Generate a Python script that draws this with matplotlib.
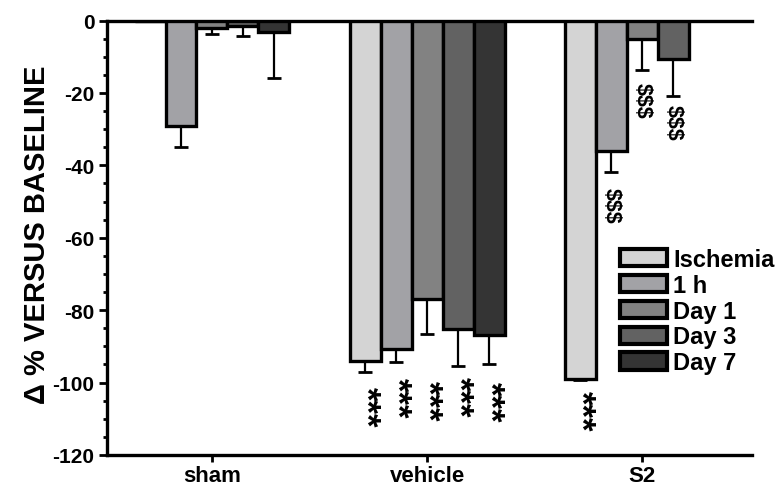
import numpy as np
import matplotlib
matplotlib.use("Agg")
import matplotlib.pyplot as plt
from matplotlib.ticker import MultipleLocator

plt.rcParams['font.family'] = ['Liberation Sans', 'DejaVu Sans']
plt.rcParams['font.weight'] = 'bold'
plt.rcParams['axes.unicode_minus'] = False

groups = ["sham", "vehicle", "S2"]
series = ["Ischemia", "1 h", "Day 1", "Day 3", "Day 7"]
colors = ["#d4d4d4", "#a2a2a6", "#828282", "#626262", "#343434"]

# mean values (% change versus baseline) per series, for sham / vehicle / S2
ischemia = [0.0, -94.1, -99.0]
h1 = [-29.1, -90.8, -36.0]
day1 = [-2.0, -76.9, -5.1]
day3 = [-1.4, -85.2, -10.6]
day7 = [-3.2, -86.9, np.nan]
values = [ischemia, h1, day1, day3, day7]

# lower error (SEM) per series
err_ischemia = [0.0, 3.0, 0.4]
err_h1 = [5.8, 3.5, 5.9]
err_day1 = [1.8, 9.7, 8.6]
err_day3 = [2.8, 10.2, 10.3]
err_day7 = [12.7, 8.0, np.nan]
errors = [err_ischemia, err_h1, err_day1, err_day3, err_day7]

# significance annotations: (group, series index, label, y position)
annotations = [
    (1, 0, "***", -106.5),
    (1, 1, "***", -104.0),
    (1, 2, "***", -104.8),
    (1, 3, "***", -103.7),
    (1, 4, "***", -105.1),
    (2, 0, "***", -107.6),
    (2, 1, "$$$", -51.0),
    (2, 2, "$$$", -22.0),
    (2, 3, "$$$", -28.0),
]

W, H = 779, 489
fig = plt.figure(figsize=(W / 100, H / 100), dpi=100)
ax = fig.add_axes([107 / W, 1 - 456 / H, (752 - 107) / W, (456 - 21.5) / H])

x = np.arange(len(groups))
w = 0.144
offsets = (np.arange(len(series)) - 2) * w

for i, (name, vals, errs, col) in enumerate(zip(series, values, errors, colors)):
    vals = np.array(vals, dtype=float)
    errs = np.array(errs, dtype=float)
    xp = x + offsets[i]
    ax.bar(xp, vals, width=w, color=col, edgecolor="black", linewidth=2.4,
           label=name, zorder=3)
    mask = ~np.isnan(vals)
    ax.errorbar(xp[mask], vals[mask],
                yerr=[errs[mask], np.zeros(mask.sum())],
                fmt="none", ecolor="black", elinewidth=1.6, capsize=5,
                capthick=2.0, zorder=2)

for g, s, lab, yy in annotations:
    fs = 25 if lab == "***" else 15.5
    ax.text(x[g] + offsets[s], yy, lab, rotation=-90, ha="center", va="center",
            fontsize=fs, fontweight="bold", zorder=4, rotation_mode="anchor")

ax.set_xlim(-0.488, 2.51)
ax.set_ylim(-120, 0)
ax.set_xticks(x)
ax.set_xticklabels(groups, fontsize=16, fontweight="bold")
ax.yaxis.set_major_locator(MultipleLocator(20))
ax.yaxis.set_minor_locator(MultipleLocator(5))
for lab in ax.get_yticklabels():
    lab.set_fontweight("bold")
ax.tick_params(axis="y", which="major", length=6, width=2, labelsize=15, pad=3)
ax.tick_params(axis="y", which="minor", length=3, width=2)
ax.tick_params(axis="x", which="major", length=5, width=2, pad=2)
ax.set_ylabel("Δ % VERSUS BASELINE", fontsize=21, fontweight="bold")
ax.yaxis.set_label_coords(-0.087, 0.51)

for sp in ["left", "bottom", "top"]:
    ax.spines[sp].set_linewidth(2.4)
ax.spines["right"].set_visible(False)

leg = ax.legend(loc="upper left", bbox_to_anchor=(620 / W, 1 - 249 / H),
                bbox_transform=fig.transFigure, frameon=False, fontsize=17,
                borderpad=0, borderaxespad=0, handlelength=2.0,
                handleheight=0.75, handletextpad=0.25, labelspacing=0.12)
for t in leg.get_texts():
    t.set_fontweight("bold")
for p in leg.get_patches():
    p.set_linewidth(3)

fig.savefig("out.png", dpi=100)
